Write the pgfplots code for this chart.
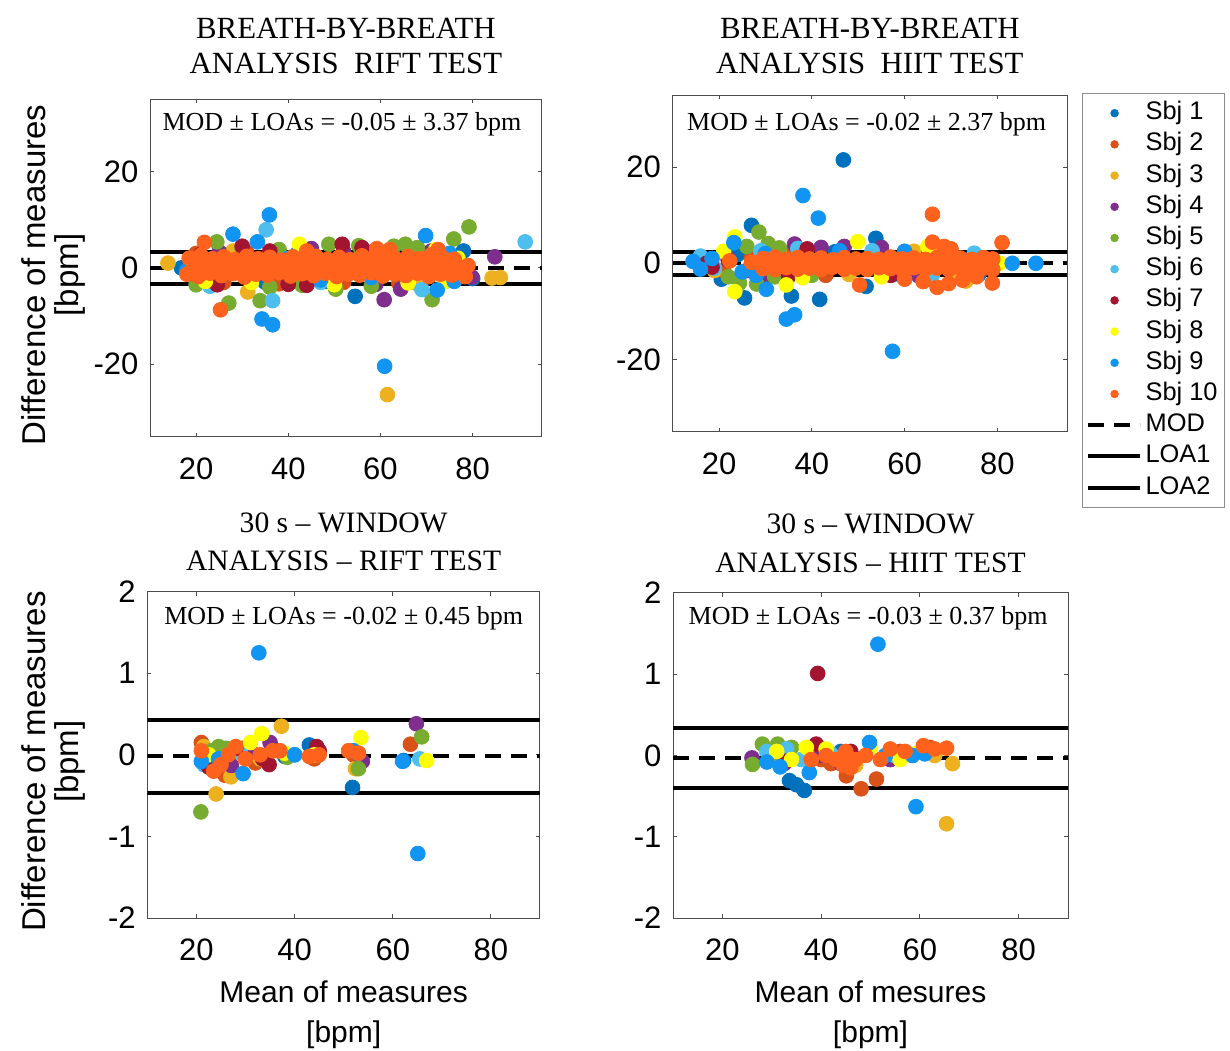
\documentclass[border=0pt]{standalone}
\usepackage{fontspec}
\setmainfont{Liberation Serif}
\newfontfamily\hv{Liberation Sans}
\usepackage{pgfplots}
\pgfplotsset{compat=1.18}

% MATLAB-like subject colours
\definecolor{s1}{RGB}{0,114,189}
\definecolor{s2}{RGB}{217,83,25}
\definecolor{s3}{RGB}{237,177,32}
\definecolor{s4}{RGB}{126,47,142}
\definecolor{s5}{RGB}{119,172,48}
\definecolor{s6}{RGB}{77,190,238}
\definecolor{s7}{RGB}{162,20,47}
\definecolor{s8}{RGB}{255,255,0}
\definecolor{s9}{RGB}{17,148,242}
\definecolor{s10}{RGB}{255,98,28}

\tikzset{ann/.style={font=\fontsize{13}{15}\selectfont, inner sep=0pt}}
\pgfplotsset{
  every axis title/.style={at={(0.5,1)}, anchor=south, inner sep=0pt, align=center,
    font=\fontsize{15.4}{17.5}\selectfont},
  ba/.style={
    scale only axis,
    axis line style={black!70, line width=0.5pt},
    tick style={black!70, line width=0.5pt},
    tick align=inside,
    major tick length=2pt,
    xtick={20,40,60,80},
    ticklabel style={font=\hv\fontsize{15.5}{18}\selectfont},
    /pgf/number format/assume math mode=true,
    xticklabel style={yshift=-7pt},
    yticklabel style={xshift=-2.3pt},
    xlabel style={at={(axis description cs:0.5,0)}, anchor=north, inner sep=0pt, yshift=-31pt,
      align=center, font=\hv\fontsize{15}{20}\selectfont},
    ylabel style={anchor=south, inner sep=0pt, align=center,
      font=\hv\fontsize{16.5}{16.5}\selectfont},
  },
  sc/.style={only marks, mark=*, mark size=3.7pt, color=#1},
  mod/.style={black, line width=2pt, dash pattern=on 8pt off 5pt},
  loa/.style={black, line width=2pt},
}

\begin{document}
\begin{tikzpicture}
\useasboundingbox (0,0) rectangle (615pt,525pt);

% ---------------- breath-by-breath, RIFT ----------------
\begin{axis}[ba, at={(75pt,306.7pt)}, anchor=south west,
  width=195.9pt, height=168.7pt,
  xmin=10, xmax=95, ymin=-35, ymax=35, ytick={-20,0,20},
  title={BREATH-BY-BREATH\\ANALYSIS\ \ RIFT TEST},
  title style={yshift=12.6pt},
  ylabel={Difference of measures\\{[bpm]}},
  ylabel style={at={(axis description cs:-0.163,0.479)}},
]
\addplot[sc=s1] coordinates {(21,-2.5)(27,2.8)(35,-3.0)(42,3.0)(48,-2.8)(54.5,-5.9)(60,2.5)(66,-3)(72,3)(74,-2.8)(78,3.5)(80,-2.2)(16.8,0)};
\addplot[sc=s2] coordinates {(20,3)(26,-3)(31,3.2)(38,-3.3)(45,3.1)(52,-3)(58,3.2)(64,-3.2)(70,3)(76,-2.5)};
\addplot[sc=s3] coordinates {(13.9,1.0)(22.5,-3.2)(31.2,-5.0)(61.5,-26.3)(84.2,-2.1)(86,-2.0)(28,3.5)(44,-3)(56,3.3)(68,-3.3)(20,2)};
\addplot[sc=s4] coordinates {(60.8,-6.6)(64.4,-4.4)(84.8,2.3)(79.8,-1.9)(25,3.3)(40,-3.3)(52,3.4)(59,-3.4)(71,3.5)(45,4.0)};
\addplot[sc=s5] coordinates {(24.5,5.4)(27.1,-7.3)(33.9,-6.8)(48.8,4.9)(55.3,4.6)(62.9,4.5)(65.4,4.9)(75.9,6.0)(79.2,8.5)(71.2,-6.6)(50.3,-4.4)(20,-3.5)(30,4.0)(36,-4)(43,-3.6)(58,-3.8)(68,4.2)(38,3.8)};
\addplot[sc=s6] coordinates {(35.2,7.9)(36.6,-6.8)(91.4,5.4)(23,-3.8)(47,-3)(69,-4.5)};
\addplot[sc=s7] coordinates {(30,4.5)(51.7,4.9)(24.6,-3.5)(36,3.5)(44,-3.6)(56,4.2)(40,-3.4)(21,2.8)};
\addplot[sc=s8] coordinates {(42.4,4.9)(76.8,2.0)(22,-2.8)(32,-3)(50,-3.5)(60,3.2)(66,-3.1)(72,3.8)(74,-2.8)};
\addplot[sc=s9] coordinates {(35.9,11.0)(28,7)(33.3,5.4)(69.8,6.7)(34.3,-10.6)(36.6,-11.8)(72.3,-4.6)(60.9,-20.4)(18,-0.5)(47,-2.5)(58,-2)(76,-2.8)(75,3)(40,2)};
\addplot[sc=s10] coordinates {
 (18.5,2.0)(21,2.6)(23.5,1.9)(26,2.3)(28.5,1.7)(31,2.4)(33.5,1.9)(36,2.2)(38.5,1.6)(41,2.3)(43.5,1.9)(46,2.4)
 (48.5,1.8)(51,2.2)(53.5,1.7)(56,2.5)(58.5,2.0)(61,2.3)(63.5,1.8)(66,2.4)(68.5,1.9)(71,2.7)(73.5,2.1)(76,1.8)
 (20,1.2)(25,1.0)(30,1.3)(35,1.1)(40,1.2)(45,0.9)(50,1.3)(55,1.0)(60,1.2)(65,1.1)(70,1.3)(75,1.0)
 (19.5,0.4)(22,-0.2)(24.5,0.6)(27,0.1)(29.5,0.5)(32,-0.1)(34.5,0.4)(37,0.2)(39.5,0.6)(42,0.0)(44.5,0.5)(47,0.1)
 (49.5,0.4)(52,-0.2)(54.5,0.5)(57,0.2)(59.5,0.6)(62,0.0)(64.5,0.4)(67,0.1)(69.5,0.5)(72,0.0)(74.5,0.4)(77,0.2)
 (21,-0.7)(26,-0.5)(31,-0.8)(36,-0.6)(41,-0.7)(46,-0.5)(51,-0.8)(56,-0.6)(61,-0.7)(66,-0.5)(71,-0.8)(76,-0.6)
 (18,-1.3)(20.5,-1.8)(23,-1.1)(25.5,-1.6)(28,-1.2)(30.5,-1.9)(33,-1.3)(35.5,-1.5)(38,-1.0)(40.5,-1.7)(43,-1.2)(45.5,-1.6)
 (48,-1.1)(50.5,-1.8)(53,-1.3)(55.5,-1.5)(58,-1.0)(60.5,-1.7)(63,-1.2)(65.5,-1.6)(68,-1.1)(70.5,-1.8)(73,-1.3)(75.5,-1.5)
 (21.8,5.3)(25.3,-8.7)(59.2,4.0)(78.4,-1.8)(62,3.8)(44,3.5)(72.5,3.8)(79,0.5)};
\addplot[mod] coordinates {(10,-0.05)(95,-0.05)};
\addplot[loa] coordinates {(10,3.32)(95,3.32)};
\addplot[loa] coordinates {(10,-3.42)(95,-3.42)};
\node[ann] at (rel axis cs:0.49,0.925) {MOD ± LOAs = -0.05 ± 3.37 bpm};
\end{axis}

% ---------------- breath-by-breath, HIIT ----------------
\begin{axis}[ba, at={(336.3pt,309.2pt)}, anchor=south west,
  width=197.2pt, height=168.3pt,
  xmin=10, xmax=95, ymin=-35, ymax=35, ytick={-20,0,20},
  title={BREATH-BY-BREATH\\ANALYSIS\ \ HIIT TEST},
  title style={yshift=10.6pt},
  legend image code/.code={\draw[mark repeat=2,mark phase=2,#1,mark size=1.8pt]
    plot coordinates {(0pt,0pt) (13.5pt,0pt) (26pt,0pt)};},
  legend style={at={(1.038,1.006)}, anchor=north west, draw=black!45, line width=0.6pt,
    inner xsep=1.5pt, inner ysep=2pt, cells={anchor=west},
    nodes={inner sep=2pt, text height=9.1pt, text depth=2.5pt},
    font=\hv\fontsize{12.7}{15}\selectfont},
  legend entries={Sbj 1,Sbj 2,Sbj 3,Sbj 4,Sbj 5,Sbj 6,Sbj 7,Sbj 8,Sbj 9,Sbj 10,MOD,LOA1,LOA2},
]
\addplot[sc=s1] coordinates {(46.8,21.5)(27,7.9)(53.8,5.2)(20.5,-3.3)(25.5,-7.2)(35.6,-6.8)(41.7,-7.5)(51.7,-4.8)(17,0.5)(24,1.8)(31,2.5)(38,-2.2)(45,2.4)(58,-2.2)(70,2.2)(76,-2.3)};
\addplot[sc=s2] coordinates {(15,0.5)(21,-1.5)(27,1.0)(35,2.0)(43,-2.5)(60,2.4)(75,-2.6)};
\addplot[sc=s3] coordinates {(73.2,-3.7)(19,-1.5)(33,2.3)(48,-2.3)(62,2.5)(71,-2.5)(66,2.8)};
\addplot[sc=s4] coordinates {(36.3,4.0)(42,3.3)(47,3.5)(55,3.3)(26,-1.5)(38,-2.6)(63,-2.6)(22,1.0)(30,-3.0)};
\addplot[sc=s5] coordinates {(28.6,6.5)(30.6,4.1)(24.4,-4.1)(28.1,-4.3)(26,3.5)(22,-2.8)(33,3.2)(40,-2.5)(32,-2.8)};
\addplot[sc=s6] coordinates {(19,-1.0)(16,1.5)(29,2.6)(37,3.1)(53,2.6)(66,-2.4)(75,2.1)};
\addplot[sc=s7] coordinates {(17.3,0)(18.5,-0.8)(22,0.6)(35,-2.7)(39,3.0)(57,-2.5)};
\addplot[sc=s8] coordinates {(23.4,5.5)(23.4,-5.9)(34.5,-4.5)(49.9,4.5)(80.4,0)(21,2.5)(38,-3.0)(55,-2.8)(65,3.5)};
\addplot[sc=s9] coordinates {(38.1,14.1)(41.4,9.4)(30.2,-5.4)(34.5,-11.6)(36.3,-10.7)(57.4,-18.3)(83.2,0)(88.3,0)(14.4,0.4)(23.2,4.3)(16,-1.2)(25,-1.8)(30,2.0)(28,-2.5)(46,2.6)(60,2.5)(70,2.4)(18.5,1.0)};
\addplot[sc=s10] coordinates {
 (29.5,1.0)(32,1.3)(34.5,0.8)(37,1.2)(39.5,0.9)(42,1.1)(44.5,0.7)(47,1.2)(49.5,0.9)(52,1.0)(54.5,0.8)
 (57,1.3)(59.5,0.9)(62,1.1)(64.5,0.8)(67,1.2)(69.5,1.0)(72,1.1)(74.5,0.8)(77,1.2)(79,0.9)
 (31,0.5)(36,0.6)(41,0.4)(46,0.6)(51,0.5)(56,0.4)(61,0.6)(66,0.5)(71,0.4)(76,0.6)
 (30.5,-0.2)(33,0.1)(35.5,-0.1)(38,0.2)(40.5,-0.2)(43,0.0)(45.5,0.1)(48,-0.1)(50.5,0.2)(53,-0.2)
 (55.5,0.0)(58,0.1)(60.5,-0.1)(63,0.2)(65.5,-0.2)(68,0.0)(70.5,0.1)(73,-0.1)(75.5,0.2)(78,0.0)
 (31,-0.6)(36,-0.5)(41,-0.7)(46,-0.5)(51,-0.6)(56,-0.7)(61,-0.5)(66,-0.6)(71,-0.7)(76,-0.5)
 (29.5,-1.1)(32,-1.3)(34.5,-0.9)(37,-1.2)(39.5,-1.0)(42,-1.3)(44.5,-0.8)(47,-1.2)(49.5,-1.0)(52,-1.3)(54.5,-0.9)
 (57,-1.1)(59.5,-1.3)(62,-0.9)(64.5,-1.2)(67,-1.0)(69.5,-1.3)(72,-0.9)(74.5,-1.2)(77,-1.0)(79,-1.3)
 (66,10.2)(81,4.3)(78.9,-4.1)(50.3,-4.5)(66,4.4)(68.5,3.5)(67,-5.0)(69.5,-4.2)(64,-3.8)(70,3.0)
 (72.5,-3.5)(60,-3.3)(75.5,-2.8)(22.3,0.5)(27,0.2)};
\addplot[mod] coordinates {(10,-0.02)(95,-0.02)};
\addplot[loa] coordinates {(10,2.35)(95,2.35)};
\addplot[loa] coordinates {(10,-2.39)(95,-2.39)};
\node[ann] at (rel axis cs:0.492,0.914) {MOD ± LOAs = -0.02 ± 2.37 bpm};
\end{axis}

% ---------------- 30 s window, RIFT ----------------
\begin{axis}[ba, at={(73.7pt,66pt)}, anchor=south west,
  width=196.3pt, height=163.2pt,
  xmin=10, xmax=90, ymin=-2, ymax=2, ytick={-2,-1,0,1,2},
  title={30 s – WINDOW\\ANALYSIS – RIFT TEST},
  title style={yshift=10pt, font=\fontsize{14.8}{19.3}\selectfont},
  xlabel={Mean of measures\\{[bpm]}},
  ylabel={Difference of measures\\{[bpm]}},
  ylabel style={at={(axis description cs:-0.158,0.479)}},
]
\addplot[sc=s1] coordinates {(51.8,-0.40)(62.2,-0.07)(43,0.12)(27,0.05)(38,-0.02)};
\addplot[sc=s2] coordinates {(21,0.15)(25.8,-0.25)(29.5,0.08)(36.5,0.05)(44,-0.05)(52,0.0)(63.6,0.13)(23,-0.1)(32,-0.1)};
\addplot[sc=s3] coordinates {(37.3,0.35)(24,-0.48)(52.4,-0.17)(27,-0.27)(33,-0.05)(21.5,0.1)};
\addplot[sc=s4] coordinates {(64.8,0.38)(27.1,-0.13)(31,0.05)(35,0.15)(22,-0.05)(53.8,-0.08)};
\addplot[sc=s5] coordinates {(20.9,-0.70)(65.9,0.22)(53,-0.17)(24.5,0.1)(26,0.08)(38.5,-0.03)(23,0.05)};
\addplot[sc=s6] coordinates {(21.5,-0.12)(29,0.02)(40,0.0)(65.5,-0.05)(53,0.02)(24,-0.15)};
\addplot[sc=s7] coordinates {(22.5,-0.15)(28,0.08)(33.5,-0.05)(44.5,0.1)(45,0.05)(34.8,-0.12)};
\addplot[sc=s8] coordinates {(33.3,0.26)(53.5,0.21)(66.9,-0.07)(22.5,0.0)(31,0.15)(44,0.0)(38,0.02)};
\addplot[sc=s9] coordinates {(32.7,1.25)(65.1,-1.21)(29.5,-0.23)(21,-0.08)(24.5,-0.05)(40,0.0)(52,0.05)(62,-0.08)};
\addplot[sc=s10] coordinates {(21,0.05)(23.5,-0.2)(25,-0.12)(28,0.1)(30,-0.05)(33,0.0)(35.5,0.05)(37,0.05)(45,0.0)(51,0.05)(53,0.02)(43,-0.02)(26.5,0.0)};
\addplot[mod] coordinates {(10,-0.02)(90,-0.02)};
\addplot[loa] coordinates {(10,0.43)(90,0.43)};
\addplot[loa] coordinates {(10,-0.47)(90,-0.47)};
\node[ann] at (rel axis cs:0.50,0.917) {MOD ± LOAs = -0.02 ± 0.45 bpm};
\end{axis}

% ---------------- 30 s window, HIIT ----------------
\begin{axis}[ba, at={(336.5pt,66pt)}, anchor=south west,
  width=197.5pt, height=162.5pt,
  xmin=10, xmax=90, ymin=-2, ymax=2, ytick={-2,-1,0,1,2},
  title={30 s – WINDOW\\ANALYSIS – HIIT TEST},
  title style={yshift=10pt, font=\fontsize{14.8}{19.3}\selectfont},
  xlabel={Mean of mesures\\{[bpm]}},
]
\addplot[sc=s1] coordinates {(33.6,-0.31)(36.6,-0.43)(35,-0.36)(44,0.05)(55,0.0)};
\addplot[sc=s2] coordinates {(48.1,-0.41)(51.2,-0.29)(45.1,-0.25)(40,-0.05)(42,-0.1)(56,0.05)(62,0.1)};
\addplot[sc=s3] coordinates {(65.4,-0.84)(66.6,-0.1)(57,0.02)(47,-0.12)(63,0.0)};
\addplot[sc=s4] coordinates {(26,-0.03)(32.5,-0.1)(40,0.0)(44,-0.1)(54,-0.05)};
\addplot[sc=s5] coordinates {(26.1,-0.11)(28.1,0.14)(31.2,0.14)(34,0.1)(30,0.0)};
\addplot[sc=s6] coordinates {(29,0.05)(33,0.08)(36,-0.05)(42,0.02)(55,0.0)};
\addplot[sc=s7] coordinates {(39.3,1.01)(39,0.14)(33,-0.07)(46,0.05)};
\addplot[sc=s8] coordinates {(31,0.05)(34,-0.05)(37,0.1)(41,0.08)(46,-0.1)(50,0.1)(56,-0.05)(59,0.02)};
\addplot[sc=s9] coordinates {(51.5,1.37)(59.2,-0.63)(37.6,-0.21)(31.7,-0.14)(49.8,0.16)(29,-0.08)(53,0.0)(58.5,0.0)(61,0.02)};
\addplot[sc=s10] coordinates {(41,0.0)(43,-0.05)(45,0.05)(47,-0.05)(49,0.0)(52,-0.05)(54,0.08)(57,0.05)(60.7,0.12)(63,0.08)(65.4,0.09)(44.5,-0.12)(46,-0.15)(38,-0.05)};
\addplot[mod] coordinates {(10,-0.03)(90,-0.03)};
\addplot[loa] coordinates {(10,0.34)(90,0.34)};
\addplot[loa] coordinates {(10,-0.40)(90,-0.40)};
\node[ann] at (rel axis cs:0.494,0.923) {MOD ± LOAs = -0.03 ± 0.37 bpm};
\end{axis}
\end{tikzpicture}
\end{document}
